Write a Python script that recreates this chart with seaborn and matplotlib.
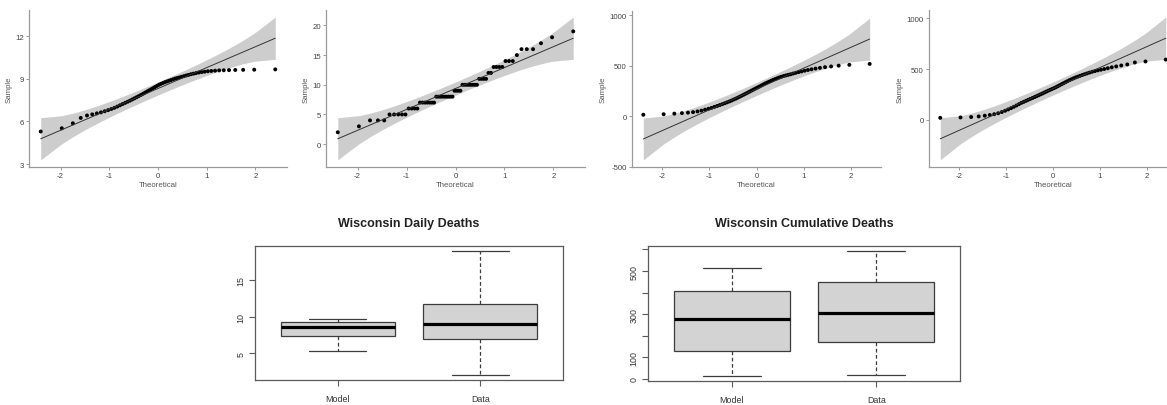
import matplotlib
matplotlib.use("Agg")
import numpy as np
import pandas as pd
import matplotlib.pyplot as plt
import seaborn as sns
from statistics import NormalDist

# ==================================================
# DATA (sorted samples)
# ==================================================

MODEL_DAILY = [
    5.29, 5.52, 5.87, 6.25, 6.42, 6.50, 6.57, 6.64, 6.72, 6.80,
    6.88, 6.96, 7.05, 7.14, 7.23, 7.31, 7.39, 7.47, 7.55, 7.63,
    7.71, 7.79, 7.87, 7.95, 8.03, 8.11, 8.19, 8.27, 8.35, 8.43,
    8.51, 8.59, 8.65, 8.71, 8.77, 8.82, 8.87, 8.92, 8.97, 9.02,
    9.06, 9.10, 9.15, 9.19, 9.24, 9.28, 9.33, 9.37, 9.41, 9.45,
    9.48, 9.51, 9.54, 9.56, 9.58, 9.60, 9.61, 9.62, 9.63, 9.64,
    9.65, 9.67,
]

DATA_DAILY = [
    2, 3, 4, 4, 4, 5, 5, 5, 5, 5,
    6, 6, 6, 6, 7, 7, 7, 7, 7, 7,
    7, 8, 8, 8, 8, 8, 8, 8, 8, 8,
    9, 9, 9, 9, 10, 10, 10, 10, 10, 10,
    10, 10, 11, 11, 11, 11, 12, 12, 13, 13,
    13, 13, 14, 14, 14, 15, 16, 16, 16, 17,
    18, 19,
]

MODEL_CUM = [
    13, 18, 24, 29, 34, 39, 46, 54, 63, 72,
    81, 91, 100, 109, 118, 127, 136, 145, 154, 164,
    173, 183, 193, 203, 213, 223, 233, 243, 253, 263,
    273, 282, 292, 302, 312, 322, 331, 340, 349, 358,
    366, 374, 382, 389, 396, 402, 408, 414, 421, 428,
    435, 442, 449, 456, 463, 470, 477, 484, 491, 499,
    507, 516,
]

DATA_CUM = [
    18, 22, 26, 32, 39, 46, 54, 63, 75, 88,
    101, 114, 127, 140, 153, 166, 176, 186, 196, 205,
    214, 223, 232, 241, 250, 259, 268, 277, 286, 295,
    303, 311, 320, 330, 340, 350, 360, 370, 380, 390,
    399, 408, 417, 425, 433, 441, 449, 457, 465, 473,
    480, 487, 493, 500, 508, 517, 526, 535, 545, 565,
    575, 593,
]

GROUPS = ["Model", "Data"]

QQ_YTICKS = [
    [3, 6, 9, 12],
    [0, 5, 10, 15, 20],
    [-500, 0, 500, 1000],
    [0, 500, 1000],
]

BOX_TITLES = ["Wisconsin Daily Deaths", "Wisconsin Cumulative Deaths"]
BOX_YTICKS = [[5, 10, 15], [0, 100, 200, 300, 400, 500, 600]]
BOX_YTICKLABELS = [["5", "10", "15"], ["0", "100", "", "300", "", "500", ""]]

# ==================================================
# STYLE
# ==================================================

sns.set_theme(style="white")
plt.rcParams["font.family"] = ["Liberation Sans", "DejaVu Sans"]

W, H = 1167, 406

QQ_BOXES = [  # left, right, top, bottom in pixels
    (29, 287, 11, 168),
    (326, 585, 11, 168),
    (632, 881, 12, 168),
    (929, 1177, 11, 168),
]

BOX_BOXES = [
    (255, 563, 247, 381),
    (648, 960, 247, 382),
]


def px_axes(fig, box):
    left, right, top, bottom = box
    return fig.add_axes([
        left / W,
        (H - bottom) / H,
        (right - left) / W,
        (bottom - top) / H,
    ])


# ==================================================
# QQ PANEL (ggqqplot style)
# ==================================================

def qq_panel(ax, values, yticks):

    x = np.sort(np.asarray(values, dtype=float))
    n = len(x)
    a = 3 / 8 if n <= 10 else 0.5
    p = (np.arange(1, n + 1) - a) / (n + 1 - 2 * a)

    nd = NormalDist()
    z = np.array([nd.inv_cdf(v) for v in p])

    q1, q3 = np.percentile(x, [25, 75])
    slope = (q3 - q1) / (nd.inv_cdf(0.75) - nd.inv_cdf(0.25))
    inter = q1 - slope * nd.inv_cdf(0.25)
    fit = inter + slope * z

    dens = np.array([nd.pdf(v) for v in z])
    se = slope / dens * np.sqrt(p * (1 - p) / n)
    zz = nd.inv_cdf(0.975)

    ax.fill_between(
        z,
        fit - zz * se,
        fit + zz * se,
        color="#cdcdcd",
        lw=0
    )

    sns.lineplot(
        x=z,
        y=fit,
        ax=ax,
        color="#333333",
        lw=0.7
    )

    sns.scatterplot(
        x=z,
        y=x,
        ax=ax,
        color="black",
        s=8,
        edgecolor="none"
    )

    ax.set_xticks([-2, -1, 0, 1, 2])
    ax.set_xticklabels(["-2", "-1", "0", "1", "2"])
    ax.set_yticks(yticks)
    ax.set_yticklabels([str(t) for t in yticks])

    for side in ["top", "right"]:
        ax.spines[side].set_visible(False)

    for side in ["left", "bottom"]:
        ax.spines[side].set_color("#9a9a9a")
        ax.spines[side].set_linewidth(0.9)

    ax.tick_params(
        length=2.5,
        width=0.7,
        color="#9a9a9a",
        labelsize=5.6,
        labelcolor="#444444",
        pad=1.2,
        left=True,
        bottom=True
    )

    ax.set_xlabel("Theoretical", fontsize=5.6, color="#555555", labelpad=1.5)
    ax.set_ylabel("Sample", fontsize=5.6, color="#555555", labelpad=2)


# ==================================================
# BOX PANEL (base R boxplot style)
# ==================================================

def box_panel(ax, model, data, title, yticks, yticklabels):

    df = pd.DataFrame({
        "group": ["Model"] * len(model) + ["Data"] * len(data),
        "value": list(model) + list(data),
    })

    # R's hinges sit a bit wider than numpy quartiles, so the fence is
    # nudged out to keep the same whisker ends (no outliers in R's plot)
    sns.boxplot(
        data=df,
        x="group",
        y="value",
        order=GROUPS,
        ax=ax,
        color="#d3d3d3",
        saturation=1,
        linecolor="#3c3c3c",
        linewidth=0.9,
        width=0.8,
        whis=1.6,
        whiskerprops={"linestyle": (0, (3, 2))},
        medianprops={"linewidth": 2.3, "color": "black"},
    )

    ax.set_xlim(-0.58, 1.58)
    ax.set_yticks(yticks)
    ax.set_yticklabels(yticklabels)
    ax.margins(y=0.04)

    ax.set_xlabel("")
    ax.set_ylabel("")

    for side in ["top", "right", "left", "bottom"]:
        ax.spines[side].set_visible(True)
        ax.spines[side].set_color("#5a5a5a")
        ax.spines[side].set_linewidth(0.9)

    ax.tick_params(
        length=4,
        width=0.8,
        color="#5a5a5a",
        labelsize=6.4,
        labelcolor="#333333",
        left=True,
        bottom=True
    )
    ax.tick_params(axis="x", pad=6)
    ax.tick_params(axis="y", pad=3, labelrotation=90)

    for lab in ax.get_yticklabels():
        lab.set_va("center")

    ax.text(
        0.5,
        1.17,
        title,
        transform=ax.transAxes,
        ha="center",
        va="center",
        fontsize=9,
        fontweight="bold",
        color="#222222"
    )


# ==================================================
# MAIN
# ==================================================

def main():

    fig = plt.figure(figsize=(W / 100, H / 100), dpi=100)

    qq_values = [MODEL_DAILY, DATA_DAILY, MODEL_CUM, DATA_CUM]

    for box, values, yticks in zip(QQ_BOXES, qq_values, QQ_YTICKS):
        ax = px_axes(fig, box)
        qq_panel(ax, values, yticks)

    box_data = [(MODEL_DAILY, DATA_DAILY), (MODEL_CUM, DATA_CUM)]

    for i, box in enumerate(BOX_BOXES):
        ax = px_axes(fig, box)
        model, data = box_data[i]
        box_panel(
            ax,
            model,
            data,
            BOX_TITLES[i],
            BOX_YTICKS[i],
            BOX_YTICKLABELS[i]
        )

    fig.savefig("out.png", dpi=100)
    plt.close(fig)


if __name__ == "__main__":
    main()
